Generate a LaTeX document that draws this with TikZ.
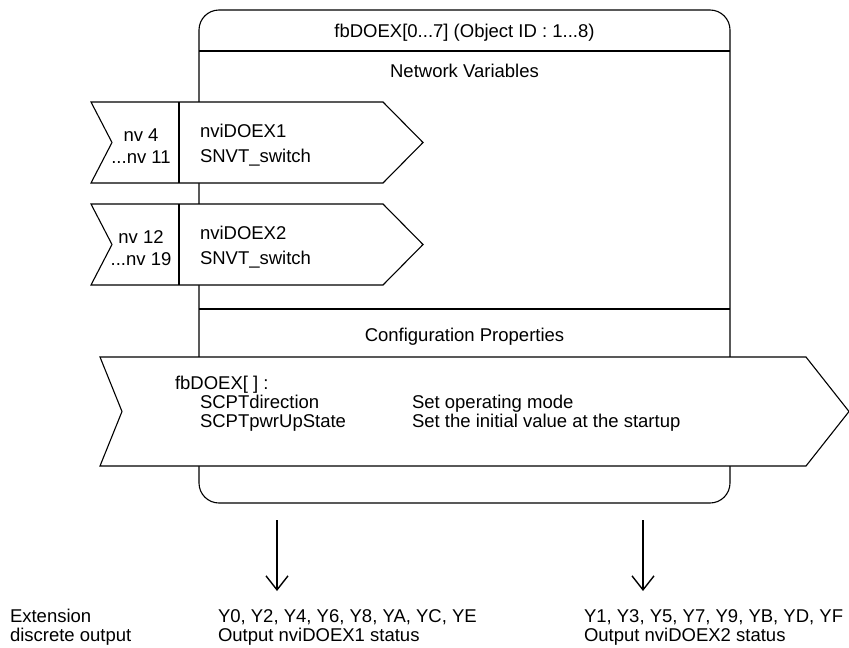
\documentclass[tikz,border=0pt]{standalone}
\usepackage{fontspec}
\setmainfont{Liberation Sans}
\usetikzlibrary{arrows.meta}
\begin{document}
\begin{tikzpicture}[x=1pt,y=-1pt,
  every node/.style={inner sep=0pt,outer sep=0pt,font=\fontsize{18.5}{20}\selectfont},
  ln/.style={line width=1.1pt,black},
  shp/.style={ln,fill=white,line join=miter},
  txt/.style={anchor=base west},
  ctxt/.style={anchor=base},
  outarrow/.style={line width=1.4pt,-{Straight Barb[length=14pt,width=22pt,line width=1.4pt]}}]
\useasboundingbox (0,0) rectangle (849,648);
% main block
\draw[ln,rounded corners=20pt] (199,10) rectangle (730,503);
\draw[ln] (199,51) -- (730,51);
\draw[ln] (199,309) -- (730,309);
\node[ctxt] (title) at (464.5,37) {fbDOEX[0...7] (Object ID : 1...8)};
\node[ctxt] (nvhead) at (464.5,77) {Network Variables};
\node[ctxt] (cphead) at (464.5,341) {Configuration Properties};
% network variable 1
\draw[shp] (91,102) -- (383,102) -- (423,142.5) -- (383,183) -- (91,183) -- (112,142.5) -- cycle;
\draw[ln] (179,102) -- (179,183);
\node[ctxt] (nv1a) at (141,141) {nv 4};
\node[ctxt] (nv1b) at (141,163) {...nv 11};
\node[txt] (nv1n) at (200,137) {nviDOEX1};
\node[txt] (nv1t) at (200,162) {SNVT\_switch};
% network variable 2
\draw[shp] (91,204) -- (383,204) -- (423,244.5) -- (383,285) -- (91,285) -- (112,244.5) -- cycle;
\draw[ln] (179,204) -- (179,285);
\node[ctxt] (nv2a) at (141,243) {nv 12};
\node[ctxt] (nv2b) at (141,265) {...nv 19};
\node[txt] (nv2n) at (200,239) {nviDOEX2};
\node[txt] (nv2t) at (200,264) {SNVT\_switch};
% configuration properties
\draw[shp] (100,357) -- (806,357) -- (849,411.5) -- (806,466) -- (100,466) -- (122,411.5) -- cycle;
\node[txt] (cp0) at (175,389) {fbDOEX[ ] :};
\node[txt] (cp1) at (200,408) {SCPTdirection};
\node[txt] (cp2) at (200,427) {SCPTpwrUpState};
\node[txt] (cp1d) at (412,408) {Set operating mode};
\node[txt] (cp2d) at (412,427) {Set the initial value at the startup};
% outputs
\coordinate (o1s) at (277,520);
\coordinate (o1e) at (277,591);
\coordinate (o2s) at (643,520);
\coordinate (o2e) at (643,591);
\draw[outarrow] (o1s) -- (o1e);
\draw[outarrow] (o2s) -- (o2e);
\node[txt] (ext1) at (10,622) {Extension};
\node[txt] (ext2) at (10,641) {discrete output};
\node[txt] (y1) at (218,622) {Y0, Y2, Y4, Y6, Y8, YA, YC, YE};
\node[txt] (y1d) at (218,641) {Output nviDOEX1 status};
\node[txt] (y2) at (584,622) {Y1, Y3, Y5, Y7, Y9, YB, YD, YF};
\node[txt] (y2d) at (584,641) {Output nviDOEX2 status};
\end{tikzpicture}
\end{document}
